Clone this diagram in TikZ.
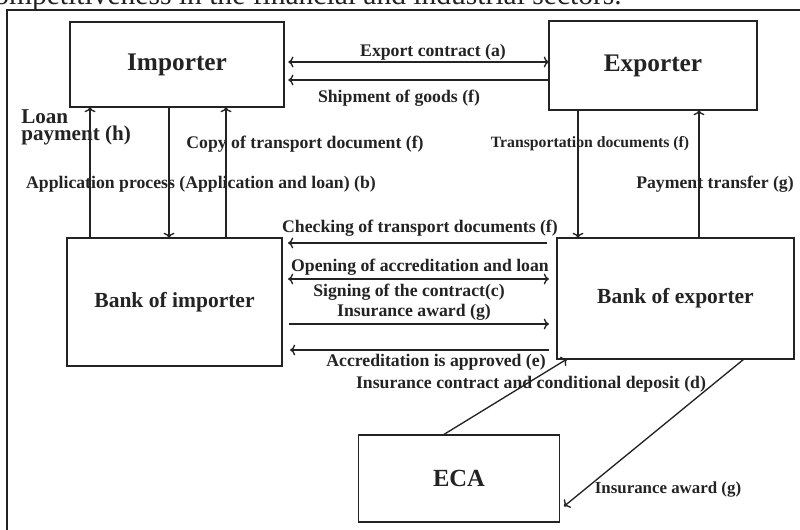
\documentclass[tikz,border=0pt]{standalone}
\usepackage{fontspec}
\setmainfont{Liberation Serif}
\usetikzlibrary{positioning, arrows.meta}

\definecolor{tinta}{RGB}{35,35,35}

\tikzset{
  caja/.style={draw=tinta, line width=1.1pt, inner sep=0pt, outer sep=0pt,
    font=\fontsize{18}{20}\selectfont\bfseries, text=tinta},
  etiq/.style={font=\fontsize{12.6}{14}\selectfont\bfseries, text=tinta, inner sep=0pt},
  flecha/.style={draw=tinta, line width=0.95pt, ->}
}

\begin{document}
\begin{tikzpicture}[x=0.025cm, y=-0.025cm]

\useasboundingbox (0,0) rectangle (800,530);
\clip (0,0) rectangle (800,530);

% Titulo cortado arriba
\node[anchor=base east, font=\fontsize{21}{24}\selectfont, text=tinta, inner sep=0pt] (titulo) at (622,5)
  {competitiveness in the financial and industrial sectors.};

% Marco exterior
\draw[tinta, line width=0.8pt] (7,560) -- (7,10) -- (830,10);

% Cajas
\node[caja, minimum width=5.35cm, minimum height=2.125cm] (imp) at (177,64.5) {Importer};
\node[caja, minimum width=5.2cm, minimum height=2.225cm] (exp) at (653,65.5) {Exporter};
\node[caja, minimum width=5.375cm, minimum height=3.2cm, font=\fontsize{15.3}{17}\selectfont\bfseries] (bimp) at (174.5,302) {Bank of importer};
\node[caja, minimum width=5.925cm, minimum height=3.025cm, font=\fontsize{15.3}{17}\selectfont\bfseries] (bexp) at (675.5,298.5) {Bank of exporter};
\node[caja, minimum width=5.025cm, minimum height=2.175cm, font=\fontsize{17.5}{19}\selectfont\bfseries] (eca) at (459,478.5) {ECA};

% Importador - exportador
\draw[flecha, <->, shorten <=3pt] (imp.east |- 0,62) -- (exp.west |- 0,62);
\draw[flecha, shorten >=3pt] (exp.west |- 0,80) -- (imp.east |- 0,80);
\node[etiq] (contrato) at (433,52) {Export contract (a)};
\node[etiq] (envio) at (399,98) {Shipment of goods (f)};

% Importador - banco del importador
\draw[flecha] (bimp.north -| 90,0) -- (imp.south -| 90,0);
\draw[flecha] (imp.south -| 169,0) -- (bimp.north -| 169,0);
\draw[flecha] (bimp.north -| 226,0) -- (imp.south -| 226,0);
\node[etiq, anchor=north west, align=left, font=\fontsize{15}{12.5}\selectfont\bfseries] (prestamo) at (21,109) {Loan\\payment (h)};
\node[etiq] (copia) at (305,144) {Copy of transport document (f)};
\node[etiq] (solicitud) at (201,184) {Application process (Application and loan) (b)};

% Exportador - banco del exportador
\draw[flecha] (exp.south -| 578,0) -- (bexp.north -| 578,0);
\draw[flecha] (bexp.north -| 699,0) -- (exp.south -| 699,0);
\node[etiq, font=\fontsize{11.2}{13}\selectfont\bfseries] (transporte) at (590,144) {Transportation documents (f)};
\node[etiq] (pago) at (715,184) {Payment transfer (g)};

% Entre los bancos
\draw[flecha, shorten <=7pt, shorten >=4.3pt] (bexp.west |- 0,243) -- (bimp.east |- 0,243);
\draw[flecha, <->, shorten <=4.3pt, shorten >=5.7pt] (bimp.east |- 0,279) -- (bexp.west |- 0,279);
\draw[flecha, shorten <=5pt, shorten >=5.7pt] (bimp.east |- 0,324) -- (bexp.west |- 0,324);
\draw[flecha, shorten <=5.7pt, shorten >=5.7pt] (bexp.west |- 0,350) -- (bimp.east |- 0,350);
\node[etiq] (revision) at (420,228) {Checking of transport documents (f)};
\node[etiq] (apertura) at (420,267) {Opening of accreditation and loan};
\node[etiq] (firma) at (409,292) {Signing of the contract(c)};
\node[etiq] (seguro) at (414,312) {Insurance award (g)};
\node[etiq] (aprobada) at (436,362) {Accreditation is approved (e)};

% ECA
\draw[flecha] (eca.north -| 443,0) -- (bexp.south -| 567,0);
\draw[flecha, shorten >=4pt] (bexp.south -| 744,0) -- (eca.east |- 0,510);
\node[etiq] (deposito) at (531,384) {Insurance contract and conditional deposit (d)};
\node[etiq, font=\fontsize{12}{14}\selectfont\bfseries] (premio) at (668,490) {Insurance award (g)};

\end{tikzpicture}
\end{document}
